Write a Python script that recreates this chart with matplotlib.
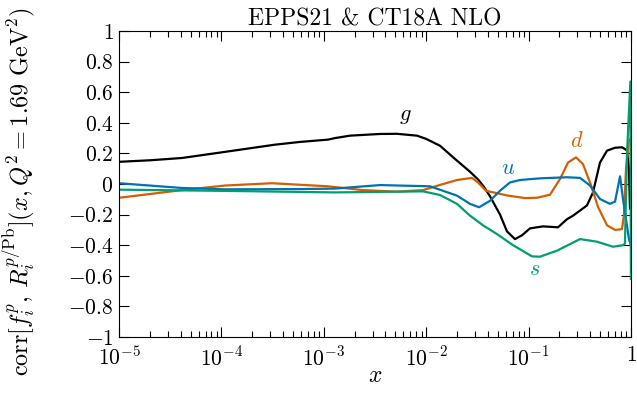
import numpy as np
import matplotlib
matplotlib.use("Agg")
import matplotlib.pyplot as plt
from matplotlib.ticker import FixedLocator, FixedFormatter, LogLocator, NullFormatter

plt.rcParams['font.family'] = 'serif'
plt.rcParams['font.serif'] = ['cmr10', 'DejaVu Serif']
plt.rcParams['mathtext.fontset'] = 'cm'
plt.rcParams['axes.unicode_minus'] = False

# ---- data (log10 x, correlation) ----
g_logx = [-5.000, -4.697, -4.385, -3.965, -3.477, -3.232, -2.959, -2.891, -2.744, -2.451,
          -2.285, -2.090, -2.001, -1.865, -1.738, -1.572, -1.494, -1.435, -1.377, -1.279,
          -1.211, -1.133, -1.064, -0.986, -0.859, -0.713, -0.625, -0.566, -0.430, -0.371,
          -0.303, -0.234, -0.156, -0.088, -0.039, -0.020, -0.010]
g_val = [0.145, 0.155, 0.170, 0.210, 0.257, 0.275, 0.290, 0.300, 0.316, 0.327,
         0.328, 0.316, 0.295, 0.250, 0.175, 0.080, 0.030, -0.020, -0.080, -0.200,
         -0.310, -0.360, -0.335, -0.290, -0.277, -0.283, -0.230, -0.207, -0.140, -0.055,
         0.140, 0.218, 0.237, 0.240, 0.220, 0.100, -0.160]

d_logx = [-5.000, -4.385, -3.965, -3.506, -2.959, -2.617, -2.285, -2.031, -1.865, -1.699,
          -1.553, -1.494, -1.416, -1.377, -1.201, -1.035, -0.918, -0.791, -0.693, -0.615,
          -0.537, -0.469, -0.400, -0.322, -0.234, -0.156, -0.088, -0.068, -0.049, -0.020]
d_val = [-0.090, -0.040, -0.010, 0.005, -0.015, -0.040, -0.050, -0.040, -0.006, 0.026,
         0.040, 0.010, -0.044, -0.050, -0.076, -0.092, -0.090, -0.070, 0.033, 0.140,
         0.174, 0.130, 0.010, -0.150, -0.270, -0.300, -0.295, -0.200, 0.100, 0.290]

u_logx = [-5.000, -4.385, -3.965, -3.232, -2.891, -2.451, -1.963, -1.699, -1.572, -1.484,
          -1.377, -1.279, -1.182, -1.084, -0.889, -0.625, -0.498, -0.400, -0.303, -0.205,
          -0.156, -0.107, -0.078, -0.020, -0.001]
u_val = [0.005, -0.026, -0.035, -0.033, -0.030, -0.007, -0.015, -0.076, -0.130, -0.152,
         -0.110, -0.044, 0.010, 0.026, 0.037, 0.044, 0.040, -0.010, -0.098, -0.130,
         -0.115, 0.050, -0.100, -0.360, -0.400]

s_logx = [-5.000, -3.965, -2.891, -2.031, -1.865, -1.699, -1.572, -1.445, -1.309, -1.152,
          -0.967, -0.889, -0.723, -0.498, -0.332, -0.176, -0.078, -0.059, -0.039, -0.006,
          -0.0005]
s_val = [-0.037, -0.045, -0.055, -0.048, -0.072, -0.130, -0.207, -0.270, -0.327, -0.400,
         -0.473, -0.475, -0.436, -0.360, -0.377, -0.410, -0.400, -0.390, 0.200, 0.670,
         -0.620]

yticks = [-1, -0.8, -0.6, -0.4, -0.2, 0, 0.2, 0.4, 0.6, 0.8, 1]
ytick_labels = ['$-1$', '$-0.8$', '$-0.6$', '$-0.4$', '$-0.2$', '$0$', '$0.2$', '$0.4$', '$0.6$', '$0.8$', '$1$']
xticks = [1e-5, 1e-4, 1e-3, 1e-2, 1e-1, 1]
xtick_labels = ['$10^{-5}$', '$10^{-4}$', '$10^{-3}$', '$10^{-2}$', '$10^{-1}$', '$1$']

series = [
    (g_logx, g_val, 'black', '$g$', -2.207, 0.44),
    (d_logx, d_val, '#d55e00', '$d$', -0.527, 0.28),
    (u_logx, u_val, '#0072b2', '$u$', -1.201, 0.10),
    (s_logx, s_val, '#009e73', '$s$', -0.938, -0.56),
]

fig = plt.figure(figsize=(6.37, 3.93), dpi=100)
ax = fig.add_axes([119/637, 1 - 337/393, (631 - 119)/637, (337 - 31)/393])

for lx, v, c, lab, tx, ty in series:
    ax.plot(10 ** np.array(lx), v, color=c, lw=1.6, solid_joinstyle='round')
    ax.text(10 ** tx, ty, lab, color=c, fontsize=16, ha='center', va='center')

ax.set_xscale('log')
ax.set_xlim(1e-5, 1)
ax.set_ylim(-1, 1)
ax.xaxis.set_major_locator(FixedLocator(xticks))
ax.xaxis.set_major_formatter(FixedFormatter(xtick_labels))
ax.xaxis.set_minor_locator(LogLocator(base=10, subs=np.arange(2, 10)))
ax.xaxis.set_minor_formatter(NullFormatter())
ax.yaxis.set_major_locator(FixedLocator(yticks))
ax.yaxis.set_major_formatter(FixedFormatter(ytick_labels))
ax.tick_params(which='both', direction='in', top=True, right=True, labelsize=15.5)
ax.tick_params(which='major', length=7, width=0.8)
ax.tick_params(which='minor', length=4, width=0.8)
ax.tick_params(axis='x', pad=6)
ax.tick_params(axis='y', pad=4)

ax.set_xlabel('$x$', fontsize=17, labelpad=-3)
fig.text(19/637, 1 - 192/393,
         r'$\mathrm{corr}[f_i^p,\, R_i^{p/\mathrm{Pb}}](x, Q^2 = 1.69\ \mathrm{GeV}^2)$',
         fontsize=17.5, rotation=90, ha='center', va='center')
ax.set_title('EPPS21 & CT18A NLO', fontsize=17, pad=3)

fig.savefig('out.png', dpi=100)
